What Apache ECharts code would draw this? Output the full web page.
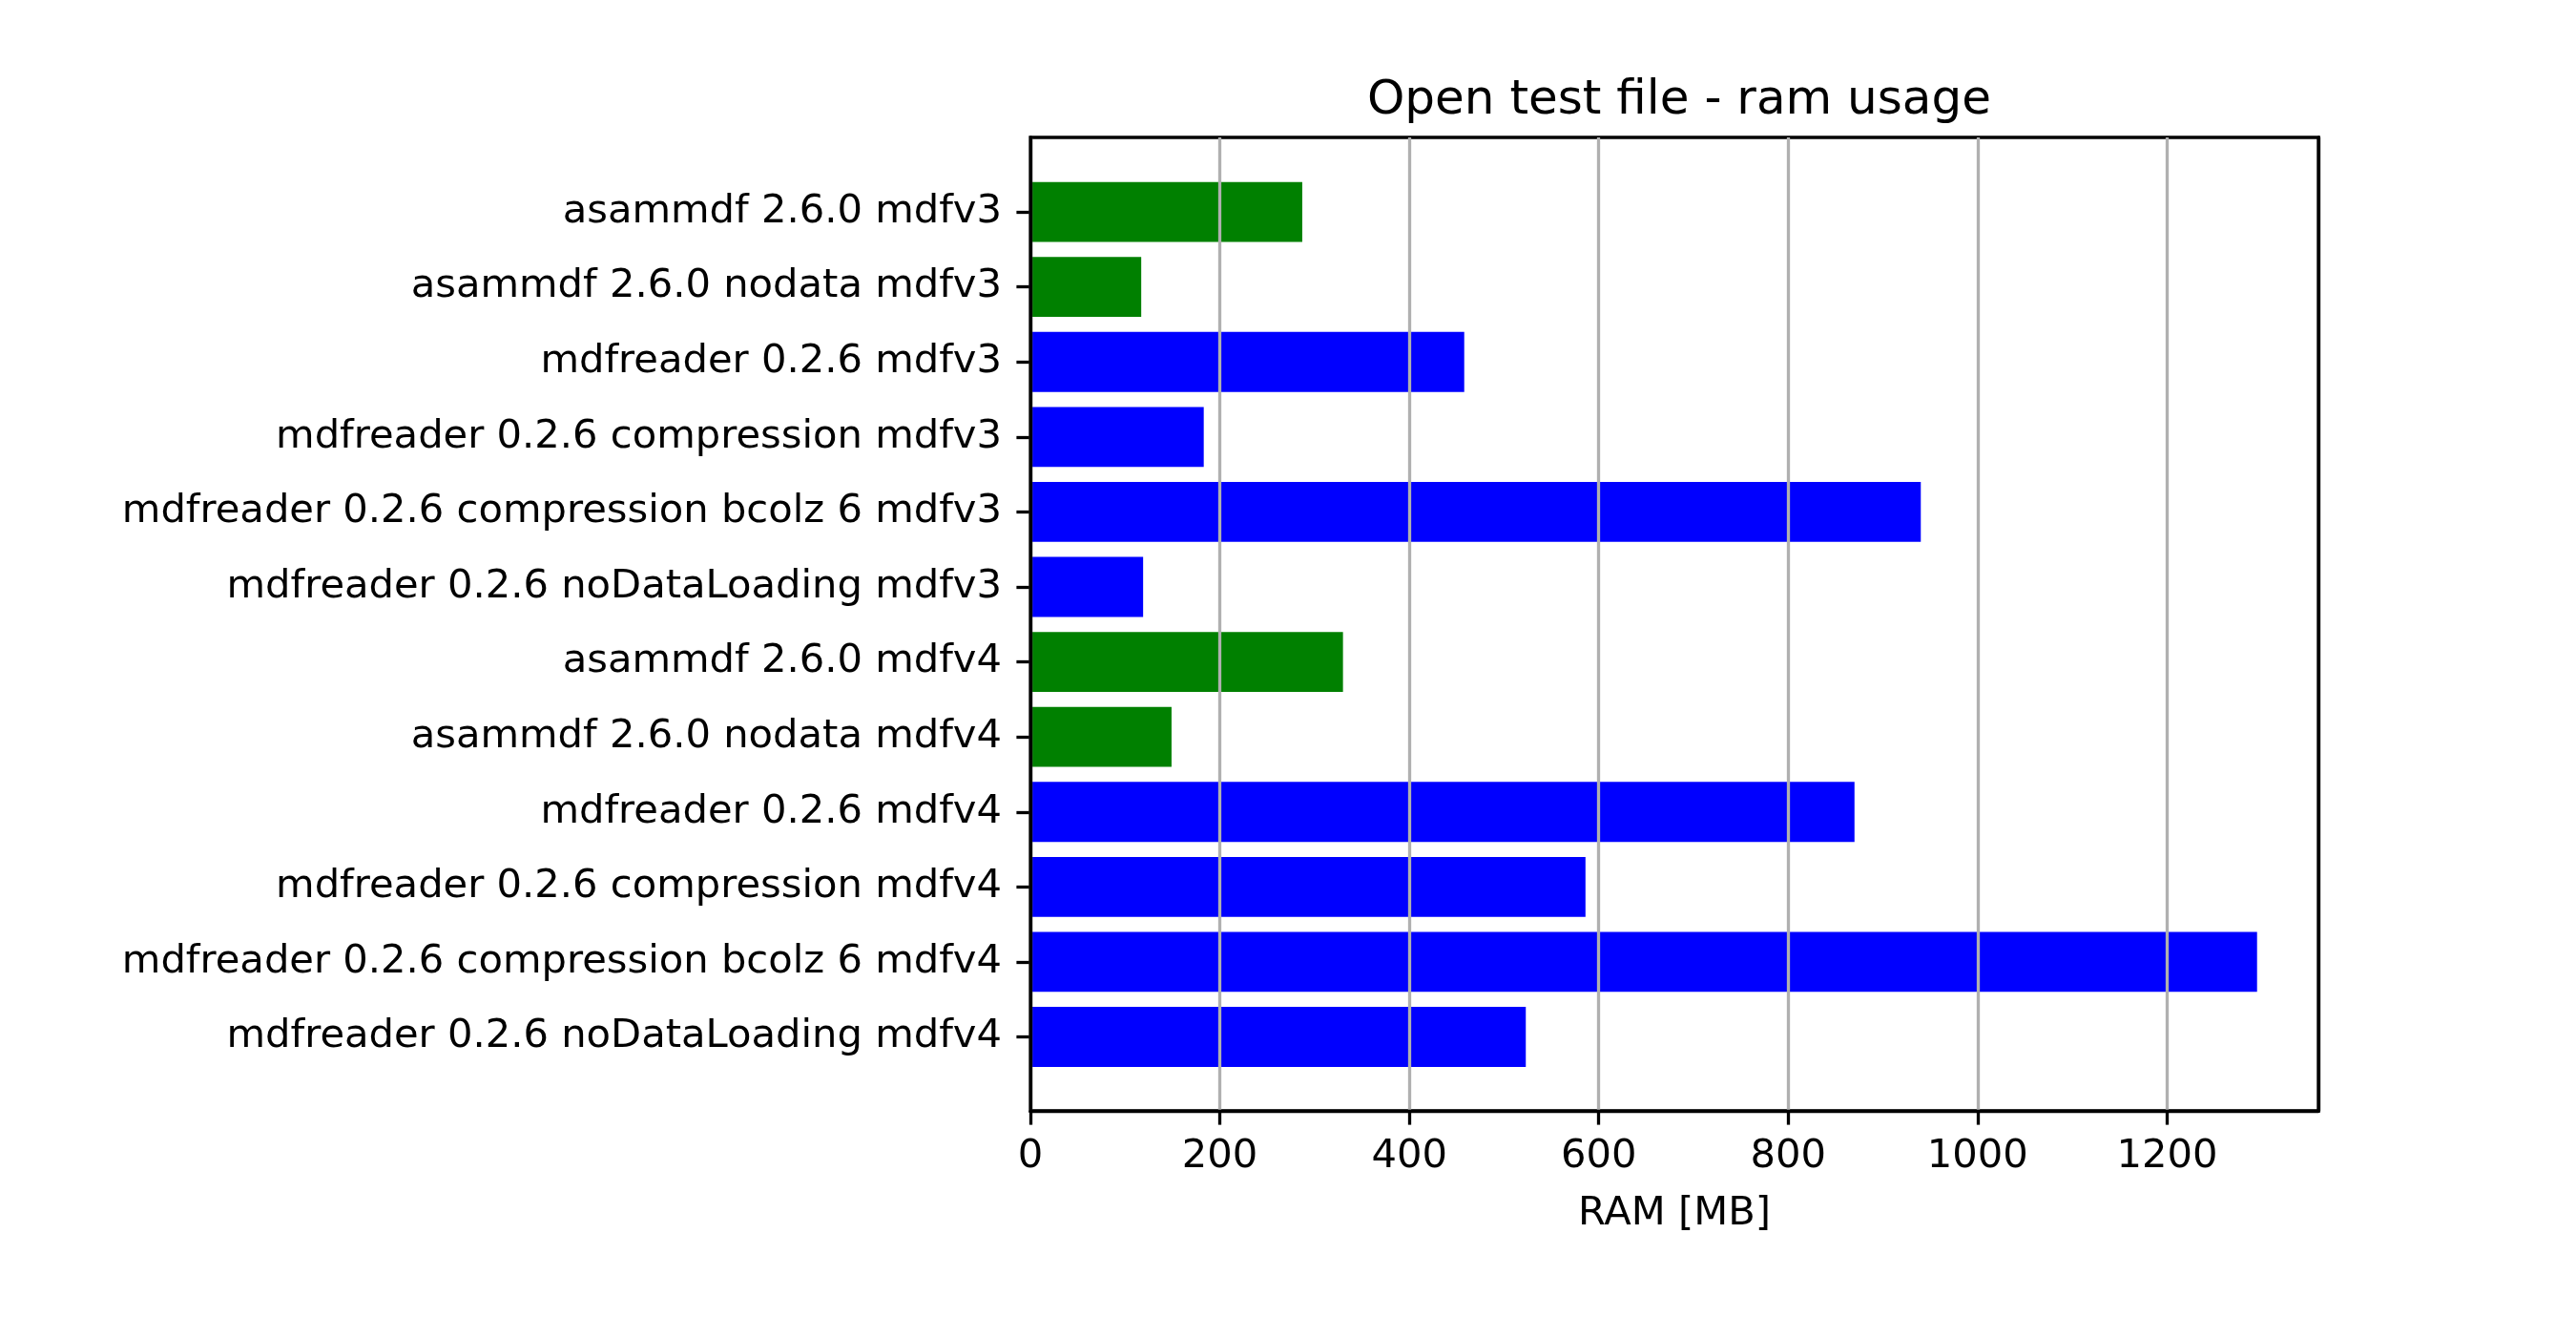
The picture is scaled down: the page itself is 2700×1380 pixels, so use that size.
<!DOCTYPE html>
<html>
<head>
<meta charset="utf-8">
<script src="https://cdn.jsdelivr.net/npm/echarts@6/dist/echarts.min.js"></script>
<style>
html,body{margin:0;padding:0;background:#fff;}
#chart{width:2700px;height:1380px;}
</style>
</head>
<body>
<div id="chart"></div>
<script>
const categories = [
  "asammdf 2.6.0 mdfv3",
  "asammdf 2.6.0 nodata mdfv3",
  "mdfreader 0.2.6 mdfv3",
  "mdfreader 0.2.6 compression mdfv3",
  "mdfreader 0.2.6 compression bcolz 6 mdfv3",
  "mdfreader 0.2.6 noDataLoading mdfv3",
  "asammdf 2.6.0 mdfv4",
  "asammdf 2.6.0 nodata mdfv4",
  "mdfreader 0.2.6 mdfv4",
  "mdfreader 0.2.6 compression mdfv4",
  "mdfreader 0.2.6 compression bcolz 6 mdfv4",
  "mdfreader 0.2.6 noDataLoading mdfv4"
];
const ramValues = [287, 117, 458, 183, 940, 119, 330, 149, 870, 586, 1295, 523];
const barColors = ["green","green","blue","blue","blue","blue","green","green","blue","blue","blue","blue"];
const xTicks = [0, 200, 400, 600, 800, 1000, 1200];
const titleText = "Open test file - ram usage";
const xLabel = "RAM [MB]";

const FONT = "DejaVu Sans";
const colorMap = {green: "#008000", blue: "#0000ff"};
const xMax = Math.max.apply(null, ramValues) * 1.05;

const chart = echarts.init(document.getElementById('chart'), null, {renderer: 'canvas'});
chart.setOption({
  animation: false,
  backgroundColor: '#ffffff',
  title: {
    text: titleText,
    left: 1755,
    top: 76,
    textAlign: 'center',
    textStyle: {fontFamily: FONT, fontSize: 50, fontWeight: 'normal', color: '#000', lineHeight: 50}
  },
  grid: [
    {left: 1080, right: 270, top: 144, bottom: 216, show: true, borderColor: '#000', borderWidth: 3.3, backgroundColor: 'transparent'},
    {left: 1080, right: 270, top: 182.8, bottom: 254.2}
  ],
  xAxis: [
    {
      gridIndex: 0, type: 'value', min: 0, max: xMax, interval: 200, z: 5,
      name: xLabel, nameLocation: 'middle', nameGap: 87,
      nameTextStyle: {fontFamily: FONT, fontSize: 41.67, color: '#000'},
      axisLine: {show: true, lineStyle: {color: '#000', width: 3.3}},
      axisTick: {show: true, length: 14.6, lineStyle: {color: '#000', width: 3.3}, customValues: xTicks},
      axisLabel: {show: true, margin: 27, fontFamily: FONT, fontSize: 41.67, color: '#000', customValues: xTicks,
        formatter: v => String(v)},
      splitLine: {show: true, lineStyle: {color: '#b0b0b0', width: 3.3}}
    },
    {
      gridIndex: 1, type: 'value', min: 0, max: xMax, show: false
    }
  ],
  yAxis: [
    {gridIndex: 0, type: 'value', min: 0, max: 1, position: 'left', z: 6,
      axisLine: {show: true, onZero: false, lineStyle: {color: '#000', width: 3.3}},
      axisTick: {show: false}, axisLabel: {show: false}, splitLine: {show: false}},
    {
      gridIndex: 1, type: 'category', data: categories, inverse: true,
      axisLine: {show: false},
      axisTick: {show: true, alignWithLabel: true, length: 14.6, lineStyle: {color: '#000', width: 3.3}},
      axisLabel: {margin: 30, fontFamily: FONT, fontSize: 41.67, color: '#000', padding: [10, 0, 0, 0]},
      splitLine: {show: false}
    },
    {gridIndex: 0, type: 'value', min: 0, max: 1, position: 'right', z: 6,
      axisLine: {show: true, onZero: false, lineStyle: {color: '#000', width: 3.3}},
      axisTick: {show: false}, axisLabel: {show: false}, splitLine: {show: false}}
  ],
  series: [{
    type: 'bar',
    xAxisIndex: 1,
    yAxisIndex: 1,
    barWidth: '80%',
    z: 2,
    data: ramValues.map((v, i) => ({value: v, itemStyle: {color: colorMap[barColors[i]]}}))
  }]
});
</script>
</body>
</html>
